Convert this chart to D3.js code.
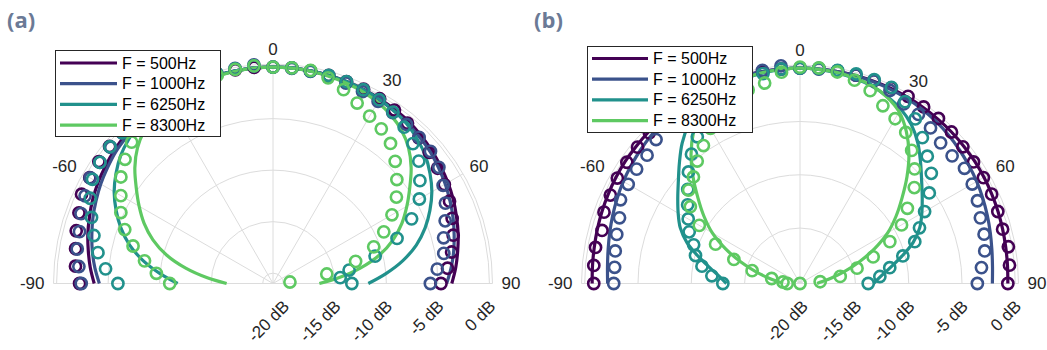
<!DOCTYPE html>
<html><head><meta charset="utf-8">
<script src="https://cdn.jsdelivr.net/npm/d3@7"></script>
<style>body{margin:0;background:#fff}svg{display:block}</style>
</head><body><svg id="c" width="1047" height="350"></svg>
<script>
const angles = [-90,-85,-80,-75,-70,-65,-60,-55,-50,-45,-40,-35,-30,-25,-20,-15,-10,-5,0,5,10,15,20,25,30,35,40,45,50,55,60,65,70,75,80,85,90];
const freqLabels = ["F = 500Hz","F = 1000Hz","F = 6250Hz","F = 8300Hz"];
const colors = ["#440154","#3b528b","#21918c","#5ec962"];
const rTicks = [-20,-15,-10,-5,0];
const rTickLabels = ["-20 dB","-15 dB","-10 dB","-5 dB","0 dB"];
const thetaTicks = [-90,-60,-30,0,30,60,90];
// the -30 label sits under the legend in the reference, so it is not shown
const thetaLabelTicks = [-90,-60,0,30,60,90];
const thetaTickLabels = ["-90","-60","0","30","60","90"];
const panelLabels = ["(a)","(b)"];

// Panel (a): model curves (lines)
const a_line500  = [-3.65,-3.2,-2.8,-2.4,-2.05,-1.7,-1.4,-1.15,-0.9,-0.7,-0.5,-0.4,-0.3,-0.22,-0.15,-0.08,-0.05,0, 0, 0,-0.05,-0.08,-0.15,-0.22,-0.3,-0.4,-0.5,-0.7,-0.9,-1.15,-1.4,-1.7,-2.05,-2.4,-2.8,-3.2,-3.65];
const a_line1000 = [-4.15,-3.65,-3.2,-2.8,-2.4,-2.05,-1.7,-1.4,-1.1,-0.9,-0.7,-0.55,-0.4,-0.3,-0.2,-0.1,-0.05,0, 0, 0,-0.05,-0.1,-0.2,-0.3,-0.4,-0.55,-0.7,-0.9,-1.1,-1.4,-1.7,-2.05,-2.4,-2.8,-3.2,-3.65,-4.15];
const a_line6250 = [-11.75,-10,-8.2,-6.6,-5.3,-4.2,-3.2,-2.4,-1.7,-1.2,-0.8,-0.55,-0.35,-0.25,-0.15,-0.1,-0.05,0, 0, 0,-0.05,-0.1,-0.15,-0.25,-0.35,-0.55,-0.8,-1.2,-1.7,-2.4,-3.2,-4.2,-5.3,-6.6,-8.2,-10,-11.75];
const a_line8300 = [-16.5,-14.6,-12.4,-10.3,-8.6,-7.2,-6.0,-4.8,-3.5,-2.4,-1.6,-1.05,-0.7,-0.45,-0.3,-0.18,-0.08,-0.02, 0,-0.02,-0.08,-0.18,-0.3,-0.45,-0.7,-1.05,-1.6,-2.4,-3.5,-4.8,-6.0,-7.2,-8.6,-10.3,-12.4,-14.6,-16.5];
// Panel (a): measurements (markers)
const a_m500  = [-2.23,-1.76,-1.55,-1.23,-0.96,-0.5,-0.47,-0.37,-0.3,-0.25,-0.2,-0.15,-0.1,-0.05,0,0.05,0.05,0.05, 0, 0,-0.05,-0.1,-0.15,-0.2,-0.3,-0.45,-0.7,-1.0,-1.2,-1.5,-1.8,-2.1,-2.5,-2.9,-3.4,-4.0,-4.7];
const a_m1000 = [-2.39,-2.09,-1.71,-1.56,-1.18,-0.88,-0.52,-0.5,-0.45,-0.4,-0.3,-0.25,-0.2,-0.1,0,0.1,0.2,0.3, 0, -0.05,-0.1,-0.2,-0.3,-0.45,-0.6,-0.75,-0.85,-0.95,-1.05,-1.35,-1.94,-2.54,-3.22,-3.86,-4.17,-5.0,-5.73];
const a_m6250 = [-5.95,-4.69,-3.75,-3.01,-2.26,-1.43,-0.78,-0.5,-0.35,-0.3,-0.25,-0.2,-0.15,-0.1,0,0.1,0.15,0.2, 0, 0,-0.05,-0.1,-0.15,-0.25,-0.4,-0.7,-1.2,-1.8,-2.53,-3.6,-4.6,-6.16,-8.19,-10.74,-13.5,-14.45,-13.35];
const a_m8300 = [-10.98,-9.64,-8.34,-6.94,-5.69,-4.71,-3.95,-2.98,-2.25,-1.6,-1.2,-0.9,-0.6,-0.4,-0.2,-0.1,0.1,0.2, 0, 0,0,-0.34,-0.98,-1.68,-2.25,-2.68,-3.26,-4.23,-5.31,-6.38,-7.67,-9.14,-10.6,-12.7,-15.7,-19.35,null];

// Panel (b): model curves (lines)
const b_line500  = [-0.7,-0.66,-0.6,-0.52,-0.43,-0.35,-0.27,-0.2,-0.15,-0.1,-0.07,-0.04,-0.02,0,0,0,0,0, 0, 0,0,0,0,0,-0.02,-0.04,-0.07,-0.1,-0.15,-0.2,-0.27,-0.35,-0.43,-0.52,-0.6,-0.66,-0.7];
const b_line1000 = [-2.15,-2.07,-1.92,-1.72,-1.5,-1.28,-1.06,-0.87,-0.68,-0.5,-0.35,-0.24,-0.16,-0.1,-0.06,-0.03,-0.01,0, 0, 0,-0.01,-0.03,-0.06,-0.1,-0.16,-0.24,-0.35,-0.5,-0.68,-0.87,-1.06,-1.28,-1.5,-1.72,-1.92,-2.07,-2.15];
const b_line6250 = [-13.3,-12.6,-11.6,-10.3,-8.9,-7.8,-7.0,-6.2,-5.3,-4.2,-3.0,-2.0,-1.3,-0.85,-0.5,-0.3,-0.15,-0.04, 0,-0.04,-0.15,-0.3,-0.5,-0.85,-1.3,-2.0,-3.0,-4.2,-5.3,-6.2,-7.0,-7.8,-8.9,-10.3,-11.6,-12.6,-13.3];
const b_line8300 = [-18.6,-18.1,-17.2,-15.9,-14.3,-12.5,-10.7,-9.2,-7.7,-6.0,-4.3,-2.8,-1.6,-0.9,-0.45,-0.25,-0.1,-0.03, 0,-0.03,-0.1,-0.25,-0.45,-0.9,-1.6,-2.8,-4.3,-6.0,-7.7,-9.2,-10.7,-12.5,-14.3,-15.9,-17.2,-18.1,-18.6];
// Panel (b): measurements (markers)
const b_m500  = [-0.85,-0.78,-0.72,-0.97,-0.63,-0.57,-0.41,-0.37,-0.3,-0.21,-0.2,-0.15,-0.1,-0.1,-0.05,-0.05,-0.05,0, 0, 0.05,0.05,0.05,0.05,0.05,0.07,0.02,0.01,-0.1,-0.25,-0.32,-0.33,-0.36,-0.45,-0.52,-0.35,-0.47,-0.7];
const b_m1000 = [-2.72,-2.74,-2.6,-2.4,-2.18,-1.62,-1.59,-1.49,-1.47,-1.1,-0.9,-0.7,-0.5,-0.3,-0.15,0,0.1,0.33, 0, 0,0.05,0.05,0.05,-0.22,-0.75,-0.83,-1.15,-1.54,-1.57,-1.36,-1.54,-1.83,-2.19,-2.32,-2.6,-3.11,-3.56];
const b_m6250 = [-12.96,-11.9,-10.86,-10.05,-9.58,-8.73,-8.09,-7.33,-6.45,-5.4,-4.36,-3.4,-2.5,-1.7,-1.0,-0.5,-0.2,0, 0, 0.05,0.1,0.15,0.15,0.1,-0.5,-1.35,-2.34,-3.31,-4.12,-5.39,-6.7,-7.83,-8.74,-10.21,-11.65,-12.68,-13.8];
const b_m8300 = [-19.0,-18.6,-17.5,-15.55,-13.6,-11.46,-9.29,-7.64,-6.56,-6.06,-5.2,-4.4,-3.4,-2.5,-1.8,-1.4,-1.1,-0.3, 0.1, 0.1,-0.05,-0.45,-0.95,-1.8,-2.35,-2.9,-3.9,-5.0,-6.2,-7.9,-9.2,-10.9,-12.9,-14.66,-16.37,-18.3,-20.2];

const panels = [
  {label: panelLabels[0], cx: 273, cy: 283.5, R: 219.5, rDomain: [-21, 0.3],
   lines: [a_line500, a_line1000, a_line6250, a_line8300],
   marks: [a_m500, a_m1000, a_m6250, a_m8300],
   labelX: 7, legend: {x: 55, y: 50, w: 165, h: 86, row0: 63, dy: 20.7, lx0: 60, lx1: 117, tx: 122}},
  {label: panelLabels[1], cx: 800, cy: 283.5, R: 218.5, rDomain: [-20.2, 0.3],
   lines: [b_line500, b_line1000, b_line6250, b_line8300],
   marks: [b_m500, b_m1000, b_m6250, b_m8300],
   labelX: 534, legend: {x: 587, y: 46, w: 165, h: 86, row0: 58.5, dy: 20.7, lx0: 592, lx1: 648, tx: 653}}
];

const svg = d3.select("#c");
const FONT = "'Liberation Sans', Arial, Helvetica, sans-serif";
const thetaScale = d3.scaleLinear().domain([-90, 90]).range([-Math.PI/2, Math.PI/2]);
const gridColor = "#dcdcdc";

panels.forEach(p => {
  const rScale = d3.scaleLinear().domain(p.rDomain).range([0, p.R]).clamp(true);
  const g = svg.append("g").attr("transform", `translate(${p.cx},${p.cy})`);

  const arcPath = r => { const pa = d3.path(); pa.arc(0, 0, r, Math.PI, 2*Math.PI); return pa.toString(); };
  g.selectAll(".rg").data(rTicks).join("path")
    .attr("d", d => arcPath(rScale(d))).attr("fill", "none")
    .attr("stroke", gridColor).attr("stroke-width", 1);
  g.selectAll(".tg").data(thetaTicks).join("line")
    .attr("x1", 0).attr("y1", 0)
    .attr("x2", d => d3.pointRadial(thetaScale(d), p.R)[0])
    .attr("y2", d => d3.pointRadial(thetaScale(d), p.R)[1])
    .attr("stroke", gridColor).attr("stroke-width", 1);
  g.append("path").attr("d", arcPath(p.R)).attr("fill", "none")
    .attr("stroke", gridColor).attr("stroke-width", 1);

  const lineGen = d3.lineRadial()
    .defined(d => d.v !== null)
    .angle(d => thetaScale(d.a)).radius(d => rScale(d.v))
    .curve(d3.curveCatmullRom);
  p.lines.forEach((vals, i) => {
    const data = angles.map((a, k) => ({a, v: vals[k]}));
    g.append("path").datum(data).attr("d", lineGen)
      .attr("fill", "none").attr("stroke", colors[i]).attr("stroke-width", 3.2);
  });
  p.marks.forEach((vals, i) => {
    const data = angles.map((a, k) => ({a, v: vals[k]})).filter(d => d.v !== null);
    g.selectAll(null).data(data).join("circle")
      .attr("cx", d => d3.pointRadial(thetaScale(d.a), rScale(d.v))[0])
      .attr("cy", d => d3.pointRadial(thetaScale(d.a), rScale(d.v))[1])
      .attr("r", 5.6).attr("fill", "none")
      .attr("stroke", colors[i]).attr("stroke-width", 2.6);
  });

  thetaLabelTicks.forEach((t, k) => {
    const txt = g.append("text").text(thetaTickLabels[k])
      .attr("font-family", FONT).attr("font-size", 17).attr("fill", "#262626")
      .attr("text-anchor", "middle").attr("dominant-baseline", "central");
    const w = txt.node().getComputedTextLength();
    const ang = thetaScale(t);
    const ux = Math.sin(ang), uy = -Math.cos(ang);
    const r0 = p.R + 9;
    txt.attr("x", r0*ux + ux*w/2).attr("y", r0*uy + uy*6);
  });

  rTicks.forEach((rv, k) => {
    const x = rScale(rv) + 7, y = 24;
    g.append("text").text(rTickLabels[k])
      .attr("font-family", FONT).attr("font-size", 17).attr("fill", "#262626")
      .attr("text-anchor", "end")
      .attr("transform", `translate(${x},${y}) rotate(-45)`);
  });

  const L = p.legend;
  const lg = svg.append("g");
  lg.append("rect").attr("x", L.x + 0.5).attr("y", L.y + 0.5).attr("width", L.w).attr("height", L.h)
    .attr("fill", "#fff").attr("stroke", "#262626").attr("stroke-width", 1);
  freqLabels.forEach((lab, i) => {
    const y = L.row0 + i*L.dy;
    lg.append("line").attr("x1", L.lx0).attr("x2", L.lx1).attr("y1", y).attr("y2", y)
      .attr("stroke", colors[i]).attr("stroke-width", 3.2);
    lg.append("text").text(lab).attr("x", L.tx).attr("y", y)
      .attr("dominant-baseline", "central")
      .attr("font-family", FONT).attr("font-size", 16).attr("fill", "#000");
  });

  svg.append("text").text(p.label).attr("x", p.labelX).attr("y", 28)
    .attr("font-family", "'Open Sans', 'Noto Sans', sans-serif").attr("font-weight", 700)
    .attr("font-size", 22).attr("fill", "#6b7a96");
});
</script>
</body></html>
